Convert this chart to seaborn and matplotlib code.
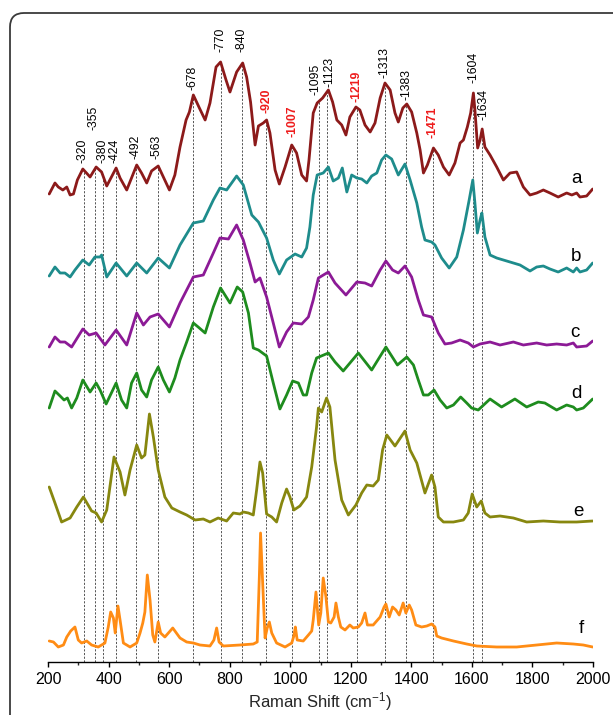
import numpy as np
import pandas as pd
import matplotlib
matplotlib.use("Agg")
import matplotlib.pyplot as plt
from matplotlib.patches import FancyBboxPatch
from matplotlib.transforms import IdentityTransform
from matplotlib.ticker import MultipleLocator
import seaborn as sns

# (Raman shift cm-1, offset intensity a.u.) for the six stacked spectra
spec_a = [(204,468),(223,479),(234,475),(249,472),(262,475),(273,467),(284,468),(297,482),(315,493),(339,485),
          (359,495),(377,490),(394,476),(425,494),(438,484),(460,472),(493,497),(509,489),(526,479),(542,491),
          (564,496),(581,485),(601,472),(619,487),(636,515),(656,542),(667,550),(680,567),(700,554),(719,542),
          (735,559),(755,595),(770,600),(788,582),(801,570),(823,590),(843,599),(856,585),(869,560),(884,517),
          (895,536),(911,539),(922,542),(933,529),(950,492),(964,478),(983,495),(1005,517),(1021,509),(1038,487),
          (1054,481),(1062,502),(1076,549),(1089,559),(1107,564),(1126,572),(1140,560),(1154,542),(1170,537),(1184,527),
          (1197,545),(1217,555),(1230,552),(1247,537),(1264,530),(1280,539),(1297,564),(1313,579),(1330,572),(1346,549),
          (1357,540),(1372,554),(1385,558),(1401,550),(1418,529),(1429,512),(1440,489),(1453,497),(1473,514),(1489,507),
          (1506,495),(1525,487),(1544,499),(1561,519),(1572,522),(1585,535),(1596,549),(1605,569),(1610,552),(1619,514),
          (1627,522),(1634,533),(1643,515),(1660,507),(1682,495),(1704,482),(1726,489),(1748,490),(1770,475),(1792,467),
          (1814,469),(1836,472),(1858,469),(1885,465),(1913,469),(1930,467),(1946,469),(1957,465),(1979,466),(1999,473)]

spec_b = [(204,386),(223,395),(240,389),(256,389),(273,385),(289,392),(315,402),(336,397),(355,405),(372,405),
          (377,407),(394,385),(425,399),(460,386),(493,399),(526,389),(564,404),(601,394),(636,417),(680,439),
          (713,441),(746,462),(768,474),(790,472),(823,486),(845,477),(873,447),(895,440),(922,424),(944,402),
          (964,388),(988,402),(1016,408),(1038,405),(1054,414),(1065,435),(1076,467),(1089,487),(1109,489),(1126,495),
          (1142,481),(1159,484),(1172,494),(1187,470),(1203,487),(1220,484),(1236,483),(1253,479),(1269,486),(1286,489),
          (1302,502),(1316,507),(1335,503),(1357,487),(1379,498),(1396,482),(1418,459),(1434,435),(1445,422),(1467,420),
          (1478,417),(1500,404),(1525,394),(1550,405),(1572,432),(1591,462),(1603,482),(1610,459),(1618,429),(1627,442),
          (1633,449),(1643,425),(1660,407),(1682,404),(1726,400),(1759,397),(1792,391),(1814,395),(1836,396),(1858,393),
          (1885,390),(1913,394),(1935,390),(1946,394),(1957,390),(1979,392),(1999,399)]

spec_c = [(204,315),(223,325),(240,320),(256,320),(278,315),(315,333),(336,327),(359,329),(388,317),(425,332),
          (460,317),(493,349),(515,337),(537,345),(564,348),(601,335),(636,359),(680,385),(713,387),(746,409),
          (768,424),(796,423),(823,437),(845,422),(867,399),(884,380),(900,384),(922,365),(944,339),(964,315),
          (988,330),(1010,339),(1038,338),(1060,345),(1076,362),(1093,384),(1126,390),(1148,379),(1184,367),(1220,380),
          (1247,379),(1269,376),(1297,392),(1316,401),(1338,392),(1357,389),(1379,396),(1401,385),(1423,362),(1440,347),
          (1467,345),(1489,329),(1511,318),(1533,319),(1561,322),(1588,319),(1605,315),(1627,318),(1660,320),(1693,317),
          (1737,320),(1770,317),(1814,319),(1847,317),(1880,318),(1913,317),(1935,319),(1946,315),(1979,316),(1999,321)]

spec_d = [(204,254),(223,271),(240,266),(253,262),(264,264),(278,254),(295,264),(315,282),(339,270),(359,279),
          (372,272),(392,258),(425,279),(443,262),(460,254),(476,279),(493,289),(509,272),(526,265),(542,282),
          (564,295),(581,282),(601,270),(619,284),(636,302),(658,320),(680,339),(696,335),(719,329),(746,355),
          (770,374),(801,359),(825,375),(843,370),(862,349),(878,314),(895,312),(922,306),(944,279),(966,253),
          (988,267),(1008,281),(1027,279),(1043,267),(1054,267),(1071,289),(1087,304),(1126,309),(1148,300),(1175,291),
          (1225,309),(1269,292),(1316,315),(1354,297),(1385,305),(1407,297),(1423,282),(1440,267),(1456,267),(1475,272),
          (1495,262),(1517,254),(1539,257),(1563,265),(1583,259),(1599,254),(1621,252),(1660,263),(1698,255),(1742,263),
          (1781,255),(1819,260),(1841,259),(1880,252),(1913,257),(1935,255),(1946,252),(1968,254),(1999,263)]

spec_e = [(204,175),(223,159),(245,140),(273,144),(295,155),(317,165),(344,151),(359,149),(377,140),(394,152),
          (418,205),(438,190),(454,167),(471,192),(493,217),(509,204),(520,207),(535,248),(548,225),(564,192),
          (586,165),(609,154),(636,150),(658,147),(686,142),(713,143),(735,140),(762,144),(790,141),(812,149),
          (834,148),(845,150),(862,149),(878,147),(889,172),(900,200),(909,189),(922,148),(939,145),(955,140),
          (972,159),(988,173),(999,165),(1012,152),(1032,156),(1054,165),(1071,195),(1087,235),(1093,254),(1104,250),
          (1120,264),(1131,255),(1148,202),(1170,162),(1192,147),(1217,157),(1236,169),(1253,177),(1274,176),(1291,182),
          (1305,212),(1319,227),(1346,216),(1379,231),(1396,212),(1418,199),(1445,169),(1467,187),(1478,175),(1489,145),
          (1506,140),(1539,140),(1572,142),(1588,149),(1601,168),(1616,155),(1631,161),(1643,149),(1660,145),(1693,146),
          (1737,144),(1781,140),(1836,141),(1891,140),(1946,140),(1999,141)]

spec_f = [(204,21),(218,20),(234,15),(251,17),(262,25),(275,31),(289,35),(300,22),(311,19),(328,21),
          (344,17),(366,15),(388,19),(399,35),(407,50),(416,44),(422,29),(431,56),(438,42),(449,19),
          (471,15),(493,19),(504,29),(513,39),(520,50),(528,87),(537,62),(546,27),(553,20),(564,40),
          (572,29),(586,25),(612,34),(636,24),(658,20),(680,19),(702,17),(735,16),(748,22),(757,34),
          (765,20),(779,16),(834,17),(878,18),(891,20),(898,85),(902,129),(909,79),(917,24),(924,34),
          (931,40),(939,29),(955,19),(983,15),(1005,19),(1012,26),(1017,35),(1023,22),(1043,21),(1060,27),
          (1071,31),(1076,42),(1085,70),(1094,37),(1101,49),(1109,84),(1118,65),(1126,40),(1134,39),(1145,45),
          (1151,59),(1159,45),(1167,35),(1181,32),(1197,37),(1208,34),(1225,35),(1236,39),(1247,49),(1255,37),
          (1274,37),(1297,45),(1310,55),(1316,58),(1327,45),(1338,55),(1349,52),(1360,47),(1373,59),(1382,49),
          (1393,57),(1401,52),(1415,37),(1434,35),(1451,36),(1467,38),(1478,35),(1484,26),(1500,24),(1539,21),
          (1583,18),(1616,16),(1682,15),(1748,15),(1814,17),(1880,19),(1935,18),(1968,17),(1999,15)]

series_names = ["a", "b", "c", "d", "e", "f"]
series_data = [spec_a, spec_b, spec_c, spec_d, spec_e, spec_f]
series_colors = ["#8c1a1a", "#1e8c8c", "#8c1a96", "#1e8c1e", "#87870f", "#ff8c14"]

# assigned band positions (cm-1); red ones are highlighted
peak_pos = [320, 355, 380, 424, 492, 563, 678, 770, 840, 920, 1007, 1095, 1123, 1219, 1313, 1383, 1471, 1604, 1634]
peak_red = [False, False, False, False, False, False, False, False, False, True, True, False, False, True,
            False, False, True, False, False]

# layout: label start height above spectrum a, sideways nudge (cm-1), and series letter anchors
label_base = [499, 532, 499, 499, 503, 503, 572, 610, 610, 549, 525, 567, 575, 560, 584, 562, 524, 579, 542]
label_nudge = [-6, -4, 0, -4, -4, -4, 0, 0, 0, 0, 0, -13, 6, 0, 0, 0, 0, 0, 4]
letter_pos = [(1946, 479), (1944, 401), (1941, 325), (1946, 264), (1951, 146), (1963, 29)]

sns.set_style("white")
plt.rcParams["font.family"] = ["Liberation Sans", "DejaVu Sans"]
plt.rcParams["mathtext.fontset"] = "custom"
plt.rcParams["mathtext.rm"] = "Liberation Sans"
plt.rcParams["mathtext.default"] = "regular"

W, H = 613, 715
fig = plt.figure(figsize=(W / 100, H / 100), dpi=100)
ax = fig.add_axes([48 / W, 53 / H, 545 / W, 647 / H])
ax.set_facecolor("none")

frames = []
for name, data in zip(series_names, series_data):
    df = pd.DataFrame(data, columns=["shift", "intensity"])
    df["sample"] = name
    frames.append(df)
long_df = pd.concat(frames, ignore_index=True)

for name, color in zip(series_names, series_colors):
    sub = long_df[long_df["sample"] == name]
    sns.lineplot(data=sub, x="shift", y="intensity", color=color, linewidth=2.0,
                 sort=False, ax=ax, legend=False, zorder=3,
                 solid_joinstyle="round", solid_capstyle="round")

# dashed guides from spectrum a down to the axis
a_df = long_df[long_df["sample"] == "a"]
for p in peak_pos:
    top = np.interp(p, a_df["shift"], a_df["intensity"])
    ax.plot([p, p], [0, top], color="#555555", lw=0.7, ls=(0, (2.2, 1.6)), zorder=1)

for p, red, base, dx in zip(peak_pos, peak_red, label_base, label_nudge):
    ax.text(p + dx, base, f"-{p}", rotation=90, ha="center", va="bottom",
            fontsize=8.8, color="#ee1c1c" if red else "black",
            fontweight="bold" if red else "normal", zorder=4)

for name, (lx, ly) in zip(series_names, letter_pos):
    ax.text(lx, ly, name, ha="center", va="baseline", fontsize=13.5, color="black")

ax.set_xlim(200, 2000)
ax.set_ylim(0, 647)
ax.set_yticks([])
ax.xaxis.set_major_locator(MultipleLocator(200))
ax.xaxis.set_minor_locator(MultipleLocator(100))
ax.tick_params(axis="x", which="major", direction="out", length=3.8, width=1, pad=3.5,
               labelsize=11.5, colors="black", bottom=True)
ax.tick_params(axis="x", which="minor", direction="out", length=2.2, width=1, bottom=True)
for side in ["left", "right", "top"]:
    ax.spines[side].set_visible(False)
ax.spines["bottom"].set_color("black")
ax.spines["bottom"].set_linewidth(1.0)
ax.set_xlabel("Raman Shift (cm$^{-1}$)", fontsize=12, labelpad=2)
ax.set_ylabel("")

frame = FancyBboxPatch((10, -40), 660, H - 13 + 40, boxstyle="round,pad=0,rounding_size=14",
                       transform=IdentityTransform(), facecolor="none", edgecolor="#3a3a3a",
                       linewidth=1.3, clip_on=False)
fig.add_artist(frame)

fig.savefig("out.png", dpi=100)
